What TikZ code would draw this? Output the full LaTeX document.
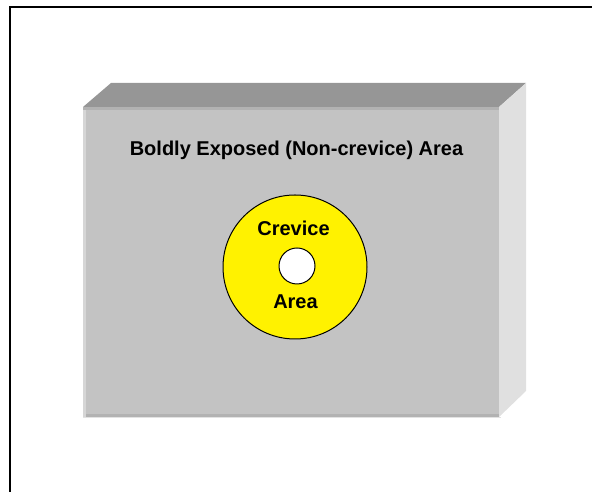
\documentclass[tikz,border=0pt]{standalone}
\usepackage{fontspec}
\setmainfont{Liberation Sans}
\begin{document}
\begin{tikzpicture}[x=1pt,y=1pt,
  lbl/.style={font=\bfseries\fontsize{20}{24}\selectfont, anchor=base, inner sep=0pt},
  ringstyle/.style={fill=yellow, draw=black, line width=1pt},
  holestyle/.style={fill=white, draw=black, line width=1pt}]
\definecolor{frontgray}{HTML}{C3C3C3}
\definecolor{topgray}{HTML}{969696}
\definecolor{sidegray}{HTML}{E0E0E0}
\definecolor{edgedark}{HTML}{B2B2B2}
\definecolor{edgelight}{HTML}{D6D6D6}
\useasboundingbox (0,0) rectangle (592,492);
% frame
\draw[line width=2pt] (10,0) -- (10,485) -- (592,485);
% box faces
\fill[topgray] (83,385) -- (111,409) -- (526,409) -- (499,385) -- cycle;
\fill[sidegray] (499,385) -- (526,409) -- (526,101) -- (499,75) -- cycle;
\fill[frontgray] (83,75) rectangle (499,385);
\fill[edgedark] (83,382) rectangle (499,385);
\fill[edgedark] (83,75) rectangle (499,78);
\fill[edgelight] (83,75) rectangle (85.5,382);
\fill[edgelight!70!white] (83,74) rectangle (501,75);
% title
\node[lbl] (title) at (296.5,336) {Boldly Exposed (Non-crevice) Area};
% crevice ring
\node[circle, ringstyle, minimum size=144pt, inner sep=0pt] (ring) at (295,225) {};
\node[circle, holestyle, minimum size=36pt, inner sep=0pt] (hole) at (297,226) {};
\node[lbl] (crev) at (293.5,256) {Crevice};
\node[lbl] (area) at (295.5,183) {Area};
\end{tikzpicture}
\end{document}
